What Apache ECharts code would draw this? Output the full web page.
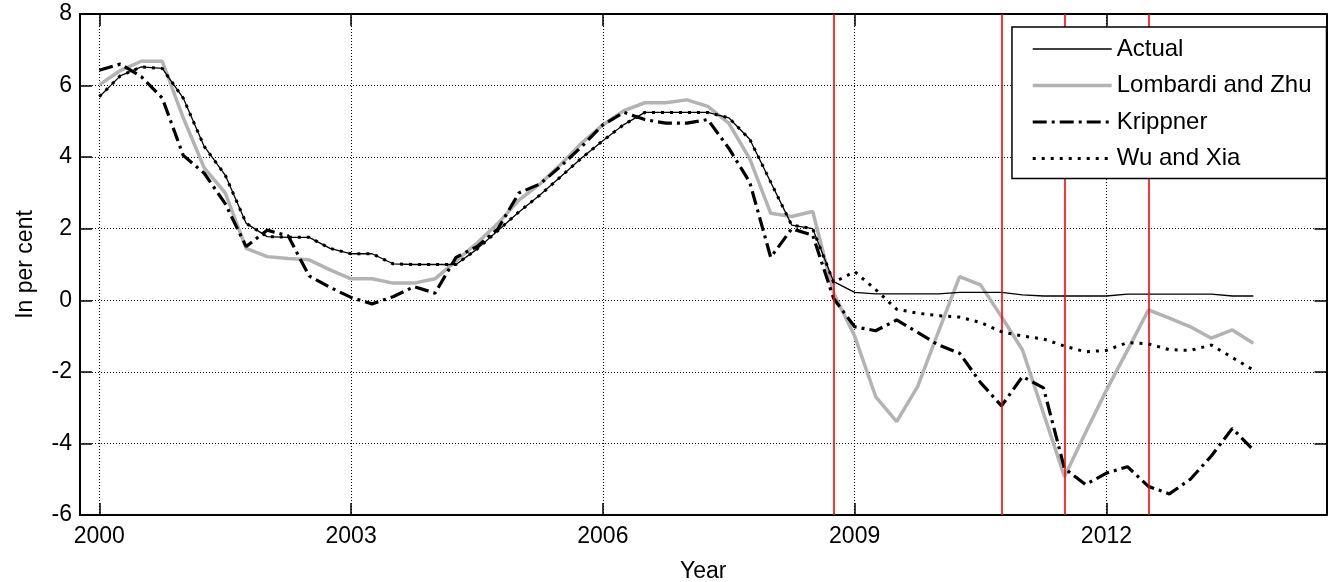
<!DOCTYPE html>
<html>
<head>
<meta charset="utf-8">
<script src="https://cdn.jsdelivr.net/npm/echarts@6/dist/echarts.min.js"></script>
<style>
html,body{margin:0;padding:0;background:#fff;}
#chart{width:1328px;height:582px;}
</style>
</head>
<body>
<div id="chart"></div>
<script>
// Quarterly observations, 2000Q1 .. 2013Q4
var startYear = 2000;
var nQuarters = 56;
var quarterLabels = [];
for (var q = 0; q < nQuarters; q++) {
  quarterLabels.push((startYear + Math.floor(q / 4)) + 'Q' + (q % 4 + 1));
}
function quarterToYear(lbl) {
  var y = parseInt(lbl.slice(0, 4), 10), qq = parseInt(lbl.slice(5), 10);
  return y + (qq - 1) / 4;
}

var seriesNames = ['Actual', 'Lombardi and Zhu', 'Krippner', 'Wu and Xia'];

var actual = [
  5.69, 6.27, 6.52, 6.48, 5.65, 4.30, 3.50, 2.15,
  1.78, 1.76, 1.76, 1.45, 1.30, 1.30, 1.02, 1.00,
  1.00, 1.00, 1.43, 1.95, 2.47, 2.94, 3.46, 3.98,
  4.46, 4.91, 5.25, 5.25, 5.25, 5.25, 5.10, 4.50,
  3.30, 2.10, 2.00, 0.52, 0.22, 0.18, 0.18, 0.18,
  0.18, 0.22, 0.22, 0.22, 0.15, 0.12, 0.12, 0.12,
  0.12, 0.17, 0.17, 0.17, 0.17, 0.17, 0.12, 0.12
];

var lombardiZhu = [
  6.02, 6.42, 6.68, 6.68, 5.10, 3.70, 3.00, 1.45,
  1.22, 1.17, 1.13, 0.85, 0.60, 0.60, 0.48, 0.48,
  0.60, 1.10, 1.60, 2.15, 2.80, 3.25, 3.80, 4.40,
  4.90, 5.30, 5.52, 5.52, 5.60, 5.42, 4.95, 3.95,
  2.43, 2.34, 2.48, 0.20, -1.00, -2.69, -3.39, -2.41,
  -0.87, 0.66, 0.43, -0.46, -1.39, -3.16, -4.93, -3.70,
  -2.51, -1.40, -0.27, -0.50, -0.74, -1.06, -0.83, -1.20
];

var krippner = [
  6.43, 6.60, 6.25, 5.65, 4.05, 3.55, 2.70, 1.50,
  1.96, 1.80, 0.68, 0.36, 0.08, -0.10, 0.10, 0.38,
  0.20, 1.20, 1.50, 2.00, 3.00, 3.25, 3.75, 4.30,
  4.90, 5.25, 5.05, 4.95, 4.95, 5.05, 4.25, 3.30,
  1.20, 2.00, 1.82, 0.05, -0.74, -0.85, -0.55, -0.90,
  -1.25, -1.48, -2.30, -2.95, -2.13, -2.45, -4.70, -5.15,
  -4.83, -4.65, -5.20, -5.41, -5.00, -4.35, -3.58, -4.18
];

var wuXia = [
  5.69, 6.27, 6.52, 6.48, 5.65, 4.30, 3.50, 2.15,
  1.78, 1.76, 1.76, 1.45, 1.30, 1.30, 1.02, 1.00,
  1.00, 1.00, 1.43, 1.95, 2.47, 2.94, 3.46, 3.98,
  4.46, 4.91, 5.25, 5.25, 5.25, 5.25, 5.10, 4.50,
  3.30, 2.10, 2.00, 0.50, 0.80, 0.30, -0.25, -0.36,
  -0.43, -0.47, -0.62, -0.88, -1.00, -1.08, -1.28, -1.44,
  -1.40, -1.18, -1.22, -1.38, -1.40, -1.25, -1.60, -1.95
];

// Vertical event lines (quarters)
var eventQuarters = ['2008Q4', '2010Q4', '2011Q3', '2012Q3'];

// Axis ticks
var xTickYears = [2000, 2003, 2006, 2009, 2012];
var xMin = 1999.77, xMax = 2014.622;
var yMin = -6, yMax = 8, yInterval = 2;

function pairs(vals) {
  return vals.map(function (v, i) { return [quarterToYear(quarterLabels[i]), v]; });
}

var FONT = '"Liberation Sans", Arial, Helvetica, sans-serif';
var chart = echarts.init(document.getElementById('chart'), null, {renderer: 'canvas'});

var axisLineStyle = {color: '#000', width: 2};
var gridLineStyle = {color: '#000', width: 1.1, type: [1, 2]};

var option = {
  animation: false,
  backgroundColor: '#fff',
  textStyle: {fontFamily: FONT, color: '#000'},
  grid: {left: 80, right: 1.5, top: 14, bottom: 67, containLabel: false, outerBoundsMode: 'none'},
  legend: {
    right: 1.5, top: 27,
    orient: 'vertical',
    data: seriesNames,
    backgroundColor: '#fff',
    borderColor: '#000',
    borderWidth: 1.5,
    borderRadius: 0,
    padding: [10, 15, 8, 19],
    itemWidth: 79,
    itemHeight: 24,
    itemGap: 12.5,
    itemStyle: {opacity: 0},
    lineStyle: {width: 'inherit', type: 'inherit', color: 'inherit'},
    textStyle: {fontFamily: FONT, fontSize: 24, color: '#000'},
    z: 10
  },
  xAxis: [{
    type: 'value', min: xMin, max: xMax, position: 'bottom',
    name: 'Year', nameLocation: 'middle', nameGap: 45,
    nameTextStyle: {fontFamily: FONT, fontSize: 23, color: '#000'},
    axisLine: {show: true, onZero: false, lineStyle: axisLineStyle},
    axisTick: {show: true, inside: true, length: 12, customValues: xTickYears, lineStyle: {color: '#000', width: 1.5}},
    axisLabel: {show: true, customValues: xTickYears, margin: 10, fontFamily: FONT, fontSize: 23, color: '#000',
      formatter: function (v) { return String(Math.round(v)); }},
    splitLine: {show: true, lineStyle: gridLineStyle}
  }, {
    type: 'value', min: xMin, max: xMax, position: 'top',
    axisLine: {show: true, onZero: false, lineStyle: axisLineStyle},
    axisTick: {show: true, inside: true, length: 12, customValues: xTickYears, lineStyle: {color: '#000', width: 1.5}},
    axisLabel: {show: false},
    splitLine: {show: false}
  }],
  yAxis: [{
    type: 'value', min: yMin, max: yMax, interval: yInterval, position: 'left',
    name: 'In per cent', nameLocation: 'middle', nameGap: 43, nameRotate: 90,
    nameTextStyle: {fontFamily: FONT, fontSize: 23, color: '#000'},
    axisLine: {show: true, onZero: false, lineStyle: axisLineStyle},
    axisTick: {show: true, inside: true, length: 12, lineStyle: {color: '#000', width: 1.5}},
    axisLabel: {show: true, margin: 8, fontFamily: FONT, fontSize: 23, color: '#000'},
    splitLine: {show: true, lineStyle: gridLineStyle}
  }, {
    type: 'value', min: yMin, max: yMax, interval: yInterval, position: 'right',
    axisLine: {show: true, onZero: false, lineStyle: axisLineStyle},
    axisTick: {show: true, inside: true, length: 12, lineStyle: {color: '#000', width: 1.5}},
    axisLabel: {show: false},
    splitLine: {show: false}
  }],
  series: [{
    name: 'Actual', type: 'line', data: pairs(actual),
    symbol: 'none', showSymbol: false, z: 3,
    lineStyle: {color: '#000', width: 1.3},
    itemStyle: {color: '#000'},
    markLine: {
      silent: true, symbol: ['none', 'none'], label: {show: false},
      lineStyle: {color: '#ff0000', width: 1.6, type: 'solid'},
      data: eventQuarters.map(function (q) { return {xAxis: quarterToYear(q)}; })
    }
  }, {
    name: 'Lombardi and Zhu', type: 'line', data: pairs(lombardiZhu),
    symbol: 'none', showSymbol: false, z: 2,
    lineStyle: {color: '#b3b3b3', width: 3.5},
    itemStyle: {color: '#b3b3b3'}
  }, {
    name: 'Krippner', type: 'line', data: pairs(krippner),
    symbol: 'none', showSymbol: false, z: 4,
    lineStyle: {color: '#000', width: 3.2, type: [14, 5, 3, 5]},
    itemStyle: {color: '#000'}
  }, {
    name: 'Wu and Xia', type: 'line', data: pairs(wuXia),
    symbol: 'none', showSymbol: false, z: 5,
    lineStyle: {color: '#000', width: 3, type: [3, 6]},
    itemStyle: {color: '#000'}
  }]
};
chart.setOption(option);
</script>
</body>
</html>
